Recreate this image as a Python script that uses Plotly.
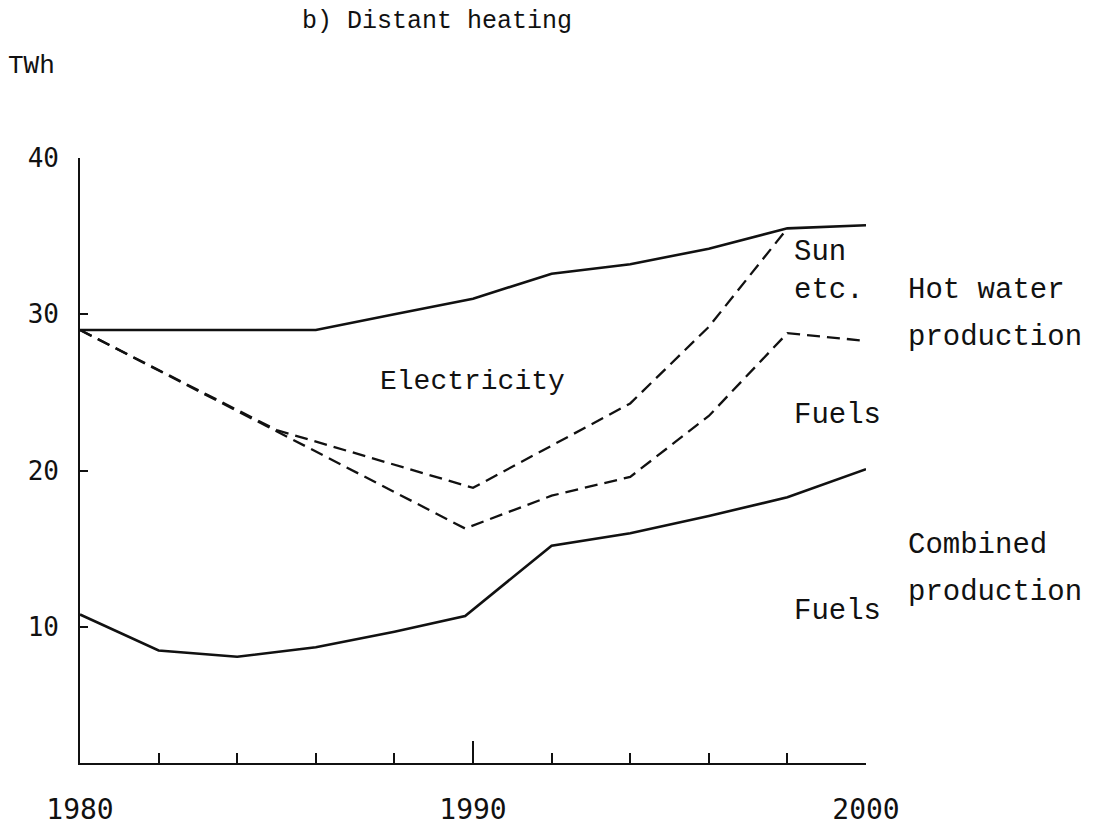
import plotly.graph_objects as go

# ── Data (TWh) ────────────────────────────────────────────────────────────────

years_total = [1980, 1986, 1988, 1990, 1991, 1992, 1994, 1996, 1998, 2000]
total = [29.0, 29.0, 30.0, 31.0, 31.8, 32.6, 33.2, 34.2, 35.5, 35.7]

years_elec = [1980, 1985, 1990, 1992, 1994, 1996, 1998]
elec_floor = [29.0, 22.6, 18.9, 21.6, 24.3, 29.2, 35.5]

years_hw = [1980, 1989.8, 1992, 1994, 1996, 1998, 2000]
hw_fuels = [29.0, 16.3, 18.4, 19.6, 23.5, 28.8, 28.3]

years_chp = [1980, 1982, 1984, 1986, 1988, 1989.8, 1992, 1994, 1996, 1998, 2000]
chp_fuels = [10.8, 8.5, 8.1, 8.7, 9.7, 10.7, 15.2, 16.0, 17.1, 18.3, 20.1]

x_ticks = [1980, 1990, 2000]
y_ticks = [10, 20, 30, 40]

# ── Layout constants (pixels, page coordinates) ───────────────────────────────

PAGE_OFF = 8          # default <body> margin of the html page
W, H = 1110 - PAGE_OFF, 837 - PAGE_OFF
LEFT, RIGHT = 80 - PAGE_OFF, 866 - PAGE_OFF
TOP, BOTTOM = 158 - PAGE_OFF, 763 - PAGE_OFF
MONO = "Liberation Mono, Courier New, monospace"
DIGITS = "DejaVu Sans Mono, monospace"
INK = "#111111"


def paper(px, py):
    """Page pixel position -> paper coordinates."""
    px, py = px - PAGE_OFF, py - PAGE_OFF
    return (px - LEFT) / (RIGHT - LEFT), (BOTTOM - py) / (BOTTOM - TOP)


fig = go.Figure()

solid = dict(color=INK, width=2.6)
dashed = dict(color=INK, width=2.3, dash="13px,7px")

fig.add_trace(go.Scatter(x=years_total, y=total, mode="lines", line=solid))
fig.add_trace(go.Scatter(x=years_elec, y=elec_floor, mode="lines", line=dashed))
fig.add_trace(go.Scatter(x=years_hw, y=hw_fuels, mode="lines", line=dashed))
fig.add_trace(go.Scatter(x=years_chp, y=chp_fuels, mode="lines", line=solid))

# ── Labels ────────────────────────────────────────────────────────────────────

labels = [
    ("b) Distant heating", 300, 22, "left", 25),
    ("TWh", 6, 66, "left", 26),
    ("Electricity", 472, 381, "center", 28),
    ("Sun", 792, 252, "left", 29),
    ("etc.", 792, 290, "left", 29),
    ("Hot water", 906, 290, "left", 29),
    ("production", 906, 337, "left", 29),
    ("Fuels", 792, 415, "left", 29),
    ("Combined", 906, 545, "left", 29),
    ("production", 906, 592, "left", 29),
    ("Fuels", 792, 611, "left", 29),
]
for text, px, py, anchor, size in labels:
    xp, yp = paper(px, py)
    fig.add_annotation(
        text=text, x=xp, y=yp, xref="paper", yref="paper",
        xanchor=anchor, yanchor="middle", showarrow=False,
        font=dict(family=MONO, size=size, color=INK),
    )

fig.update_layout(
    width=W, height=H,
    margin=dict(l=LEFT, r=W - RIGHT, t=TOP, b=H - BOTTOM, autoexpand=False),
    paper_bgcolor="white", plot_bgcolor="white",
    showlegend=False,
)

fig.update_xaxes(
    range=[1980, 2000], tickvals=x_ticks, ticktext=[str(v) for v in x_ticks],
    showgrid=False, zeroline=False, automargin=False,
    showline=True, linecolor=INK, linewidth=2,
    ticks="inside", ticklen=22, tickwidth=2, tickcolor=INK,
    minor=dict(ticks="inside", dtick=2, tick0=1980, ticklen=10, tickwidth=1.5,
               tickcolor=INK, showgrid=False),
    ticklabelstandoff=20,
    tickfont=dict(family=DIGITS, size=28, color=INK),
)
fig.update_yaxes(
    range=[1.3, 40], tickvals=y_ticks, ticktext=[str(v) for v in y_ticks],
    showgrid=False, zeroline=False, automargin=False,
    showline=True, linecolor=INK, linewidth=1.6,
    ticks="inside", ticklen=8, tickwidth=2, tickcolor=INK,
    ticklabelstandoff=14,
    tickfont=dict(family=DIGITS, size=26, color=INK),
)

fig.write_html("out.html")
